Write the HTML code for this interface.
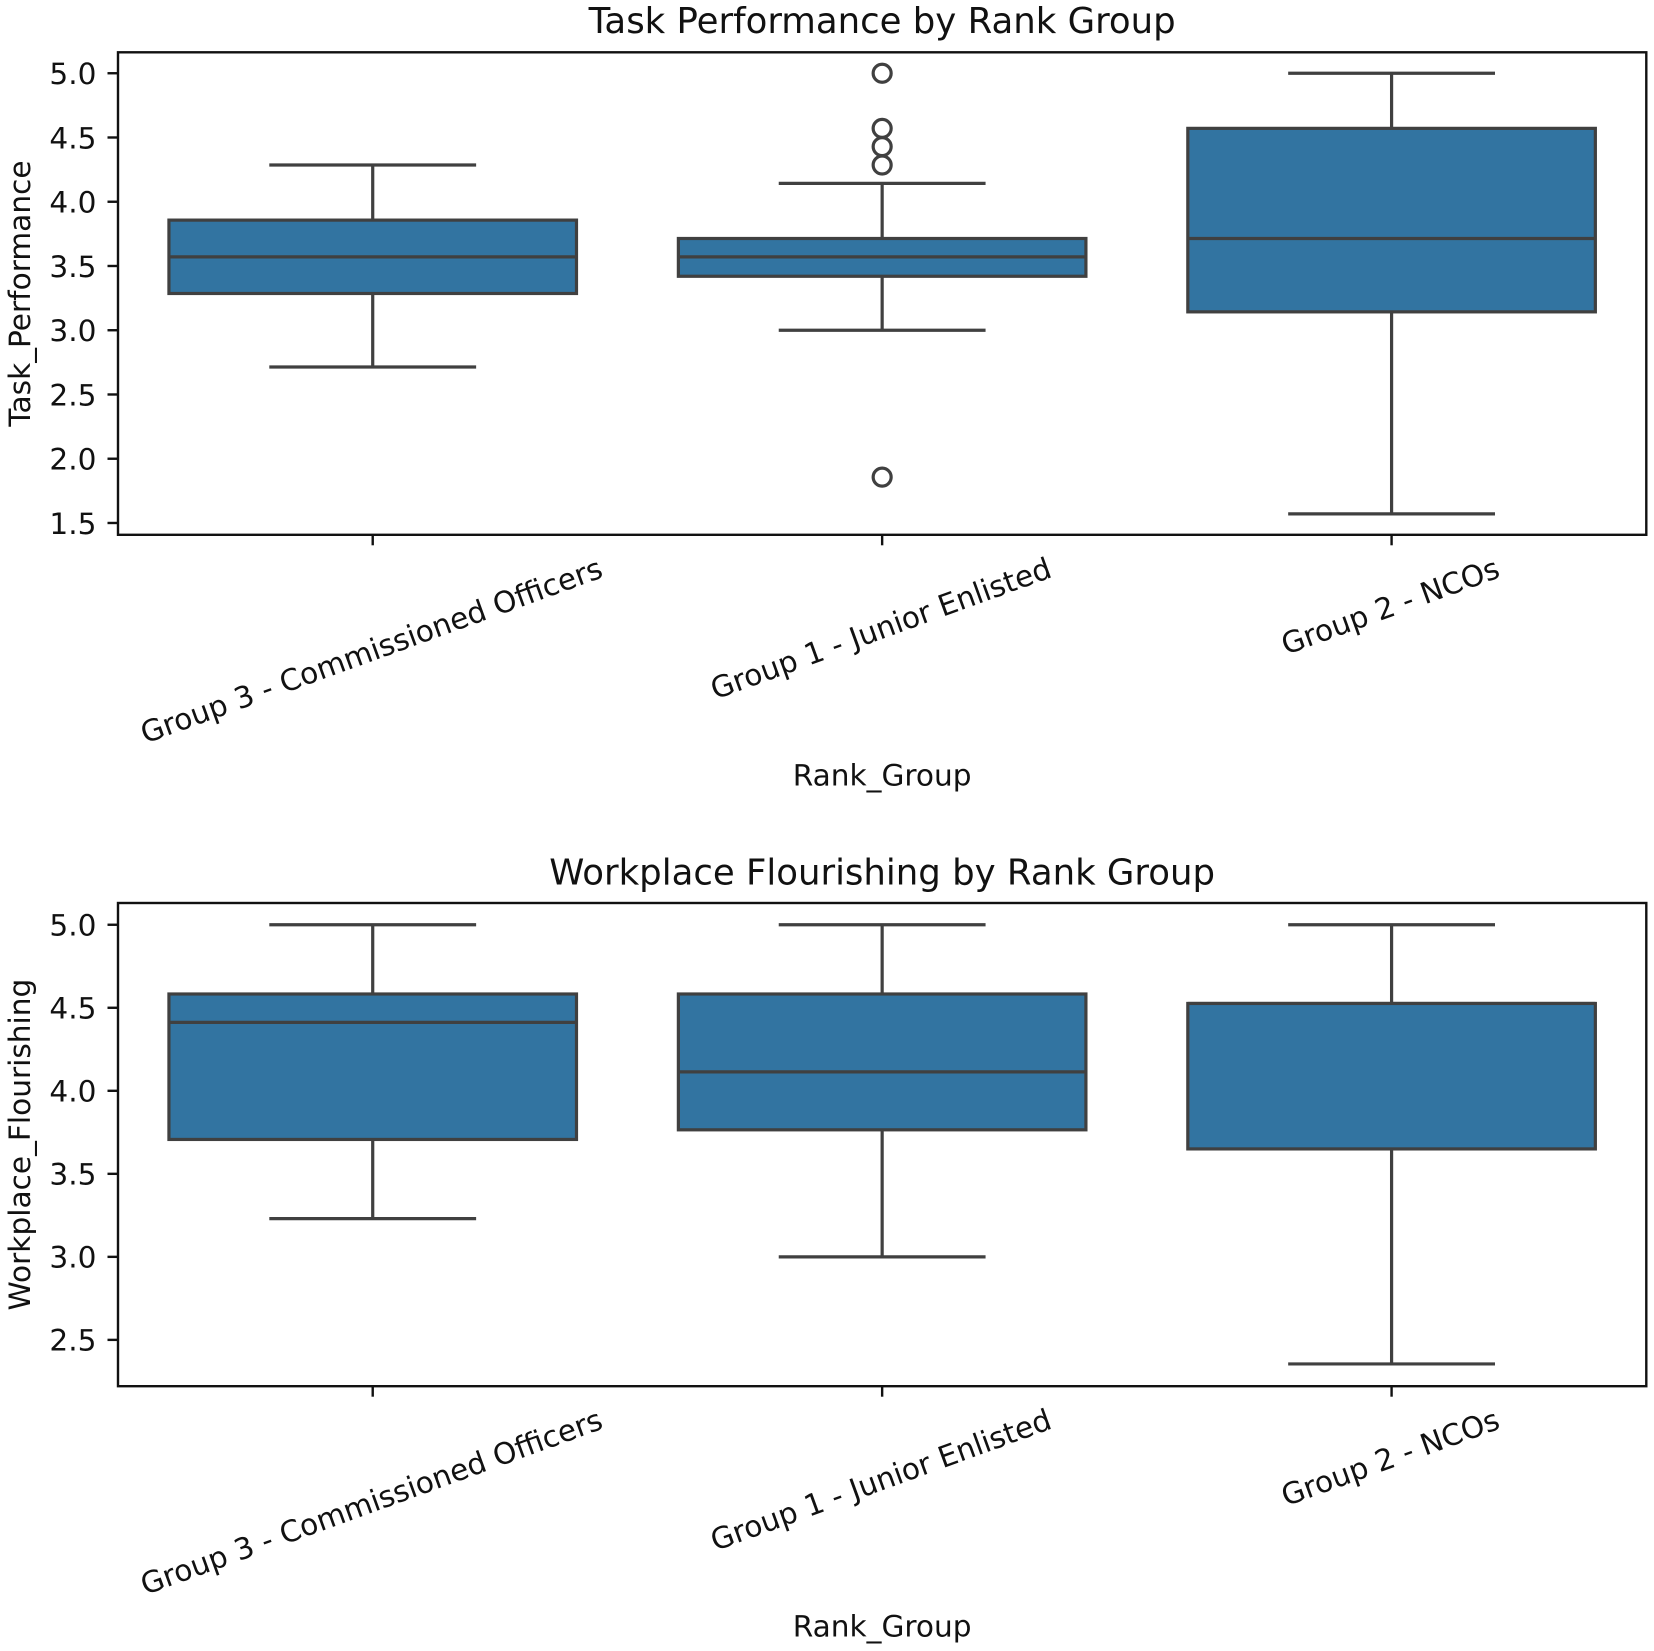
<!DOCTYPE html>
<html lang="en">
<head>
<meta charset="utf-8">
<title>Task Performance and Workplace Flourishing by Rank Group</title>
<style>
  html, body { margin: 0; padding: 0; background: #fff; }
  body { width: 1654px; height: 1651px; overflow: hidden; }
  svg { display: block; }
  text { font-family: "DejaVu Sans", "Liberation Sans", sans-serif; fill: #111; }
</style>
</head>
<body>
<svg id="figure" xmlns="http://www.w3.org/2000/svg" width="1654" height="1651" viewBox="0 0 1654 1651"></svg>
<script>
const categories = ['Group 3 - Commissioned Officers', 'Group 1 - Junior Enlisted', 'Group 2 - NCOs'];

const taskWhiskerLow = [2.714, 3.0, 1.571];
const taskQ1 = [3.286, 3.42, 3.143];
const taskMedian = [3.571, 3.571, 3.714];
const taskQ3 = [3.857, 3.714, 4.571];
const taskWhiskerHigh = [4.286, 4.143, 5.0];
const taskOutliers = [[], [5.0, 4.571, 4.429, 4.286, 1.857], []];
const taskTicks = ['1.5', '2.0', '2.5', '3.0', '3.5', '4.0', '4.5', '5.0'];

const flourishWhiskerLow = [3.23, 3.0, 2.355];
const flourishQ1 = [3.707, 3.765, 3.65];
const flourishMedian = [4.412, 4.114, 4.526];
const flourishQ3 = [4.583, 4.583, 4.526];
const flourishWhiskerHigh = [5.0, 5.0, 5.0];
const flourishOutliers = [[], [], []];
const flourishTicks = ['2.5', '3.0', '3.5', '4.0', '4.5', '5.0'];

const NS = 'http://www.w3.org/2000/svg';
const svg = document.getElementById('figure');
const LEFT = 118, RIGHT = 1646.3;
const LINE = '#404040', FILL = '#3274a1', SPINE = '#111';
const TICK_FONT = 29.6, TITLE_FONT = 35.5;

function make(tag, parent, props) {
  const el = document.createElementNS(NS, tag);
  for (const k in props) el.setAttribute(k, props[k]);
  parent.appendChild(el);
  return el;
}

function drawPanel(cfg) {
  const g = make('g', svg, {});
  
  

  const yScale = v => cfg.top + (cfg.yMax - v) / (cfg.yMax - cfg.yMin) * (cfg.bottom - cfg.top);
  const step = (RIGHT - LEFT) / categories.length;
  const xScale = i => LEFT + step * (i + 0.5);
  const boxHalf = step * 0.4;
  const capHalf = step * 0.203;

  const title = make('text', g, { x: (LEFT + RIGHT) / 2, y: cfg.titleY, 'text-anchor': 'middle', 'font-size': TITLE_FONT });
  title.textContent = cfg.title;
  
  

  categories.forEach((cat, i) => {
    const box = make('g', g, {});
    
    
    const x = xScale(i);
    const lineProps = { stroke: LINE, 'stroke-width': 3.2, fill: 'none' };

    const whiskerLow = make('line', box, Object.assign({ x1: x, x2: x, y1: yScale(cfg.q1[i]), y2: yScale(cfg.whiskerLow[i]) }, lineProps));
    
    

    const whiskerHigh = make('line', box, Object.assign({ x1: x, x2: x, y1: yScale(cfg.q3[i]), y2: yScale(cfg.whiskerHigh[i]) }, lineProps));
    
    

    const capLow = make('line', box, Object.assign({ x1: x - capHalf, x2: x + capHalf, y1: yScale(cfg.whiskerLow[i]), y2: yScale(cfg.whiskerLow[i]) }, lineProps));
    
    

    const capHigh = make('line', box, Object.assign({ x1: x - capHalf, x2: x + capHalf, y1: yScale(cfg.whiskerHigh[i]), y2: yScale(cfg.whiskerHigh[i]) }, lineProps));
    
    

    const rect = make('rect', box, {
      x: x - boxHalf, y: yScale(cfg.q3[i]), width: boxHalf * 2,
      height: yScale(cfg.q1[i]) - yScale(cfg.q3[i]),
      fill: FILL, stroke: LINE, 'stroke-width': 3.2
    });
    
    

    const median = make('line', box, Object.assign({ x1: x - boxHalf, x2: x + boxHalf, y1: yScale(cfg.median[i]), y2: yScale(cfg.median[i]) }, lineProps));
    
    

    cfg.outliers[i].forEach(v => {
      const dot = make('circle', box, { cx: x, cy: yScale(v), r: 9, fill: 'none', stroke: LINE, 'stroke-width': 3.2 });
      
      
    });

    const tick = make('line', g, { x1: x, x2: x, y1: cfg.bottom, y2: cfg.bottom + 10.5, stroke: SPINE, 'stroke-width': 2.4 });
    
    

    const label = make('text', g, { x: 0, y: 0, 'text-anchor': 'middle', 'font-size': TICK_FONT });
    label.textContent = cat;
    
    
    const len = label.getComputedTextLength();
    const angle = 20 * Math.PI / 180;
    const bboxHeight = len * Math.sin(angle) + TICK_FONT * 1.17 * Math.cos(angle);
    const cy = cfg.bottom + 15.5 + bboxHeight / 2;
    label.setAttribute('transform', 'translate(' + (x - 1.5) + ',' + cy + ') rotate(-20) translate(0,' + (TICK_FONT * 0.36) + ')');
  });

  cfg.ticks.forEach(t => {
    const y = yScale(parseFloat(t));
    const tick = make('line', g, { x1: LEFT - 10.5, x2: LEFT, y1: y, y2: y, stroke: SPINE, 'stroke-width': 2.4 });
    
    
    const label = make('text', g, { x: LEFT - 21.5, y: y + TICK_FONT * 0.365, 'text-anchor': 'end', 'font-size': TICK_FONT });
    label.textContent = t;
    
    
  });

  const frame = make('rect', g, { x: LEFT, y: cfg.top, width: RIGHT - LEFT, height: cfg.bottom - cfg.top, fill: 'none', stroke: SPINE, 'stroke-width': 2.4 });
  
  

  const xTitle = make('text', g, { x: (LEFT + RIGHT) / 2, y: cfg.xTitleY, 'text-anchor': 'middle', 'font-size': TICK_FONT });
  xTitle.textContent = 'Rank_Group';
  
  

  const midY = (cfg.top + cfg.bottom) / 2;
  const yTitle = make('text', g, { 'text-anchor': 'middle', 'font-size': TICK_FONT, transform: 'translate(30,' + midY + ') rotate(-90)' });
  yTitle.textContent = cfg.yTitle;
  
  
}

drawPanel({
  key: 'task-performance', title: 'Task Performance by Rank Group', yTitle: 'Task_Performance',
  top: 52.3, bottom: 534.8, yMax: 5.163, yMin: 1.408, titleY: 33, xTitleY: 785.5,
  ticks: taskTicks, q1: taskQ1, q3: taskQ3, median: taskMedian,
  whiskerLow: taskWhiskerLow, whiskerHigh: taskWhiskerHigh, outliers: taskOutliers
});

drawPanel({
  key: 'workplace-flourishing', title: 'Workplace Flourishing by Rank Group', yTitle: 'Workplace_Flourishing',
  top: 903, bottom: 1386.2, yMax: 5.131, yMin: 2.221, titleY: 884.5, xTitleY: 1636.5,
  ticks: flourishTicks, q1: flourishQ1, q3: flourishQ3, median: flourishMedian,
  whiskerLow: flourishWhiskerLow, whiskerHigh: flourishWhiskerHigh, outliers: flourishOutliers
});
</script>
</body>
</html>
